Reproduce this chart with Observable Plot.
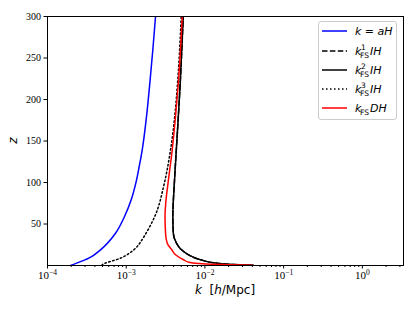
<!DOCTYPE html>
<html><head><meta charset="utf-8">
<script src="https://cdn.jsdelivr.net/npm/d3@7"></script>
<script src="https://cdn.jsdelivr.net/npm/@observablehq/plot@0.6"></script>
<style>
body{margin:0;background:#fff;}
#wrap{position:relative;width:415px;height:312px;}
</style></head><body><div id="wrap"></div>
<script>
// ---- data ----
const zAH  = [0, 0.8, 8.8, 18.9, 38.9, 59, 79.1, 99.2, 119.3, 139.4, 179.5, 219.7, 259.9, 300];
const kAH  = [1.96e-4, 2.06e-4, 3.35e-4, 4.715e-4, 7.31e-4, 9.51e-4, 1.157e-3, 1.324e-3, 1.463e-3, 1.597e-3, 1.811e-3, 1.995e-3, 2.178e-3, 2.357e-3];

const zFS1 = [0.3, 1.2, 2.8, 6.9, 12.9, 18.9, 26.9, 38.9, 59, 99.2, 139.4, 179.5, 219.7, 300];
const kFS1 = [4.1e-2, 2.33e-2, 1.43e-2, 8.8e-3, 6.19e-3, 5.04e-3, 4.356e-3, 3.967e-3, 3.91e-3, 4.087e-3, 4.33e-3, 4.592e-3, 4.854e-3, 5.3e-3];

const zFS2 = [0.3, 1.2, 2.8, 6.9, 12.9, 18.9, 26.9, 38.9, 59, 99.2, 139.4, 179.5, 219.7, 300];
const kFS2 = [4.1e-2, 2.33e-2, 1.43e-2, 8.8e-3, 6.19e-3, 5.04e-3, 4.356e-3, 3.967e-3, 3.91e-3, 4.087e-3, 4.33e-3, 4.592e-3, 4.854e-3, 5.3e-3];

const zFS3 = [0, 0.8, 8.8, 18.9, 31, 38.9, 59, 99.2, 139.4, 179.5, 219.7, 300];
const kFS3 = [4.9e-4, 4.96e-4, 8.46e-4, 1.249e-3, 1.588e-3, 1.785e-3, 2.302e-3, 3.05e-3, 3.655e-3, 4.133e-3, 4.486e-3, 5.0e-3];

const zDH  = [0.2, 0.8, 1.5, 2.5, 4, 6.9, 12.9, 18.9, 26.9, 38.9, 59, 79.1, 99.2, 139.4, 179.5, 219.7, 300];
const kDH  = [4.0e-2, 2.11e-2, 1.249e-2, 8.29e-3, 6.24e-3, 5.35e-3, 4.23e-3, 3.797e-3, 3.319e-3, 3.158e-3, 3.112e-3, 3.205e-3, 3.397e-3, 3.84e-3, 4.23e-3, 4.592e-3, 5.15e-3];

const xMajor = [1e-4, 1e-3, 1e-2, 1e-1, 1];
const xMajorExp = ["−4", "−3", "−2", "−1", "0"];
const yTicks = [50, 100, 150, 200, 250, 300];

const xMinor = [];
for (let e = -4; e <= 0; e++) for (let m = 2; m <= 9; m++) { const v = m * Math.pow(10, e); if (v <= 3.3) xMinor.push(v); }

const series = [
  {id: "aH",  z: zAH,  k: kAH,  stroke: "#0000ff", dash: null},
  {id: "FS1", z: zFS1, k: kFS1, stroke: "#000000", dash: "5.5,2.4"},
  {id: "FS2", z: zFS2, k: kFS2, stroke: "#000000", dash: null},
  {id: "FS3", z: zFS3, k: kFS3, stroke: "#000000", dash: "1.5,2.5"},
  {id: "DH",  z: zDH,  k: kDH,  stroke: "#ff0000", dash: null}
];

const lineMarks = series.map(s => Plot.line(s.z.map((z, i) => ({z, k: s.k[i]})), {
  x: "k", y: "z", stroke: s.stroke, strokeWidth: 1.5,
  strokeDasharray: s.dash || undefined, curve: "monotone-y", clip: true
}));

const chart = Plot.plot({
  width: 415, height: 312,
  marginLeft: 47, marginRight: 12, marginTop: 16, marginBottom: 47,
  style: {fontFamily: "'Liberation Serif', serif", fontSize: "10px", color: "black", background: "white", overflow: "visible"},
  x: {type: "log", domain: [1e-4, 3.33]},
  y: {domain: [0, 300]},
  marks: [
    Plot.axisX({ticks: xMinor, tickSize: 2, tickFormat: () => "", label: null}),
    Plot.axisX({ticks: xMajor, tickSize: 3.5, tickPadding: 3, tickFormat: d => "10", label: null}),
    Plot.axisY({ticks: yTicks, tickSize: 3.5, tickPadding: 3, label: null}),
    ...lineMarks,
    Plot.frame({stroke: "black", strokeWidth: 1})
  ]
});
document.getElementById("wrap").appendChild(chart);

const svg = d3.select(chart);
// remove empty minor labels, then superscript exponents on major x tick labels
svg.selectAll('g[aria-label="x-axis tick label"] text').filter(function() { return this.textContent === ""; }).remove();
svg.selectAll('g[aria-label="x-axis tick label"] text').each(function(d, i) {
  const t = d3.select(this);
  t.text("");
  t.append("tspan").attr("font-size", "11px").text("10");
  t.append("tspan").attr("font-size", "7.5px").attr("dy", "-4").text(xMajorExp[i]);
});

const sans = "'DejaVu Sans', sans-serif";
// axis labels
const xl = svg.append("text").attr("x", 225).attr("y", 294).attr("text-anchor", "middle")
  .attr("font-family", sans).attr("font-size", "12px").attr("fill", "black").attr("xml:space", "preserve");
xl.append("tspan").attr("font-style", "italic").text("k");
xl.append("tspan").text("  [");
xl.append("tspan").attr("font-style", "italic").text("h");
xl.append("tspan").text("/Mpc]");

svg.append("text").attr("transform", "translate(17,140.5) rotate(-90)").attr("text-anchor", "middle")
  .attr("font-family", sans).attr("font-size", "12px").attr("font-style", "italic").attr("fill", "black").text("z");

// legend
const lg = svg.append("g").attr("text-anchor", "start");
lg.append("rect").attr("x", 318.5).attr("y", 21.5).attr("width", 78).attr("height", 98).attr("rx", 2.5)
  .attr("fill", "white").attr("fill-opacity", 0.8).attr("stroke", "#cccccc").attr("stroke-width", 1);
const rowsY = [31, 51, 70, 89, 108];
series.forEach((s, i) => {
  const cy = rowsY[i];
  lg.append("line").attr("x1", 322).attr("x2", 347).attr("y1", cy).attr("y2", cy)
    .attr("stroke", s.stroke).attr("stroke-width", 1.5).attr("stroke-dasharray", s.dash || null);
  const base = cy + 4;
  if (s.id === "aH") {
    const t = lg.append("text").attr("x", 355).attr("y", base).attr("font-family", sans).attr("font-size", "11px").attr("fill", "black").attr("xml:space", "preserve");
    t.append("tspan").attr("font-style", "italic").text("k");
    t.append("tspan").text(" = ");
    t.append("tspan").attr("font-style", "italic").text("aH");
  } else {
    lg.append("text").attr("x", 355).attr("y", base).attr("font-family", sans).attr("font-size", "11px").attr("font-style", "italic").attr("fill", "black").text("k");
    lg.append("text").attr("x", 360).attr("y", base + 3).attr("font-family", sans).attr("font-size", "7.5px").attr("fill", "black").text("FS");
    if (s.id !== "DH") {
      lg.append("text").attr("x", 361).attr("y", base - 5).attr("font-family", sans).attr("font-size", "7.5px").attr("fill", "black").text(s.id.slice(2));
      lg.append("text").attr("x", 370).attr("y", base).attr("font-family", sans).attr("font-size", "11px").attr("font-style", "italic").attr("fill", "black").text("IH");
    } else {
      lg.append("text").attr("x", 370).attr("y", base).attr("font-family", sans).attr("font-size", "11px").attr("font-style", "italic").attr("fill", "black").text("DH");
    }
  }
});
</script>
</body></html>
